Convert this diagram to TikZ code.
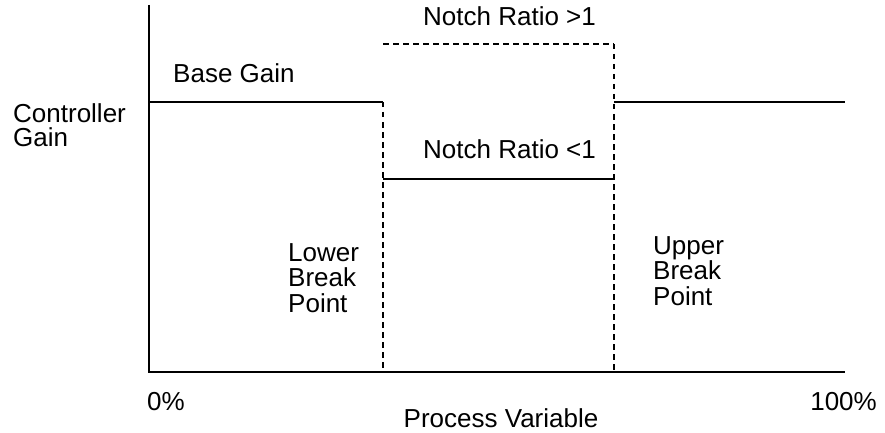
\documentclass[tikz,border=0pt]{standalone}
\usepackage{fontspec}
\setmainfont{Liberation Sans}
\begin{document}
\begin{tikzpicture}[x=1pt,y=-1pt,
  lbl/.style={inner sep=0pt,anchor=base west,font=\fontsize{26}{26}\selectfont},
  multilbl/.style={inner sep=0pt,anchor=north west,align=left},
  axisline/.style={line width=2.8pt},
  gainline/.style={line width=2.3pt},
  notchline/.style={line width=2.4pt,dash pattern=on 5.5pt off 4.5pt}]
\useasboundingbox (0,0) rectangle (885,433);

% axes
\coordinate (ytop) at (149,5);
\coordinate (origin) at (149,372);
\coordinate (xend) at (845,372);
\draw[axisline] (ytop) -- (origin) -- (xend);

% base gain and the notch break points
\coordinate (bgL) at (150,102);
\coordinate (lbp) at (383,102);
\coordinate (ubp) at (614,102);
\coordinate (bgR) at (845,102);
\coordinate (lbpAxis) at (383,372);
\coordinate (ubpAxis) at (614,372);
\coordinate (hiL) at (383,44);
\coordinate (hiR) at (614,44);
\coordinate (loL) at (383,179);
\coordinate (loR) at (614,179);

\draw[gainline] (bgL) -- (lbp);
\draw[gainline] (ubp) -- (bgR);
\draw[gainline] (loL) -- (loR);
\draw[notchline] (lbp) -- (lbpAxis);
\draw[notchline] (hiL) -- (hiR);
\draw[notchline] (hiR) -- (ubpAxis);

% labels
\node[lbl] (basegain) at (173,83) {Base Gain};
\node[lbl] (notchhi) at (423,26) {Notch Ratio >1};
\node[lbl] (notchlo) at (423,158) {Notch Ratio <1};
\node[lbl] (zero) at (147,410) {0\%};
\node[lbl,anchor=base east] (hundred) at (877,410) {100\%};
\node[lbl,anchor=base] (pv) at (501,427) {Process Variable};
\node[multilbl,font=\fontsize{26}{24}\selectfont] (cg) at (13,103) {Controller\\Gain};
\node[multilbl,font=\fontsize{26}{25.5}\selectfont] (lower) at (288,243) {Lower\\Break\\Point};
\node[multilbl,font=\fontsize{26}{25.5}\selectfont] (upper) at (653,236) {Upper\\Break\\Point};
\end{tikzpicture}
\end{document}
